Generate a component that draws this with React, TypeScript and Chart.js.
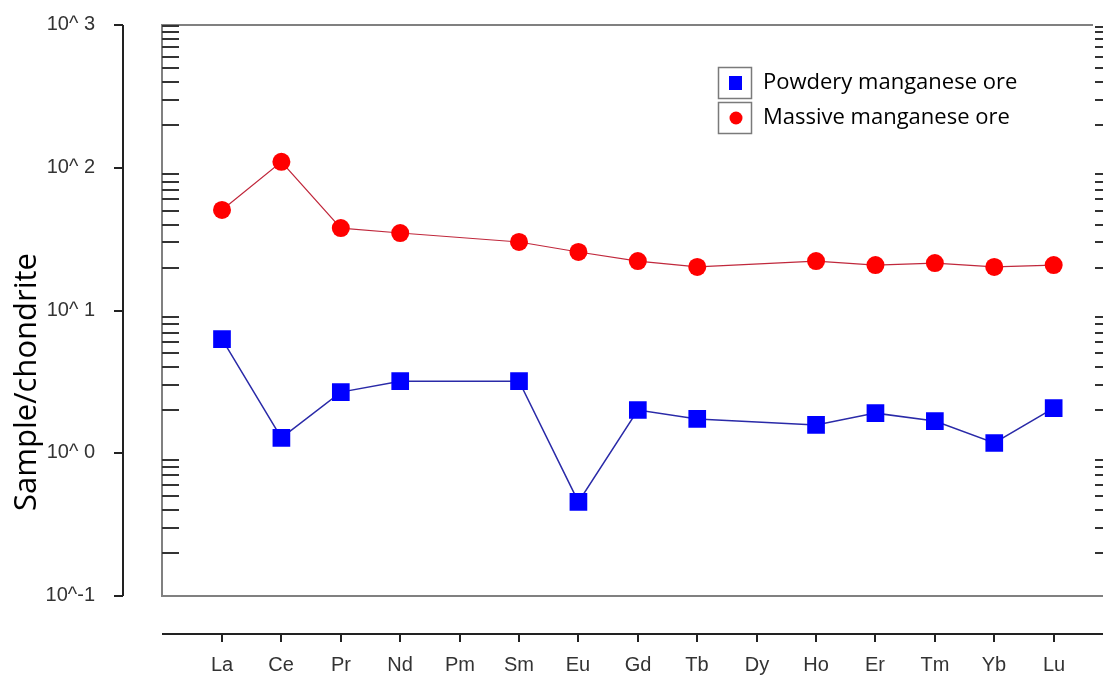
import React, { useEffect, useRef } from "react";
import { Chart, registerables } from "chart.js";

Chart.register(...registerables);

const categories = ["La", "Ce", "Pr", "Nd", "Pm", "Sm", "Eu", "Gd", "Tb", "Dy", "Ho", "Er", "Tm", "Yb", "Lu"];
const powdery: (number | null)[] = [6.3, 1.28, 2.68, 3.2, null, 3.2, 0.456, 2.01, 1.74, null, 1.58, 1.91, 1.68, 1.18, 2.07];
const massive: (number | null)[] = [50.6, 110, 37.8, 34.9, null, 30.2, 25.7, 22.2, 20.2, null, 22.2, 20.8, 21.5, 20.2, 20.8];
const yTickValues = [0.1, 1, 10, 100, 1000];
const yTickLabels = ["10^-1", "10^ 0", "10^ 1", "10^ 2", "10^ 3"];
const seriesNames = ["Powdery manganese ore", "Massive manganese ore"];
const yTitle = "Sample/chondrite";

const W = 1103;
const H = 680;

const framePlugin = {
  id: "framePlugin",
  beforeDatasetsDraw(chart: any) {
    const { ctx, chartArea, scales } = chart;
    const y = scales.y;
    const x = scales.x;
    const L = chartArea.left;
    const T = chartArea.top;
    const B = chartArea.bottom;
    ctx.save();
    // frame
    ctx.strokeStyle = "#808080";
    ctx.lineWidth = 2;
    ctx.beginPath();
    ctx.moveTo(1093, T);
    ctx.lineTo(L, T);
    ctx.lineTo(L, B);
    ctx.lineTo(W, B);
    ctx.stroke();
    // minor ticks
    ctx.strokeStyle = "#333";
    ctx.lineWidth = 2;
    for (let e = -1; e < 3; e++) {
      for (let m = 2; m <= 9; m++) {
        const v = m * Math.pow(10, e);
        const py = Math.round(y.getPixelForValue(v));
        ctx.beginPath();
        ctx.moveTo(L, py);
        ctx.lineTo(L + 17, py);
        ctx.moveTo(1095, py);
        ctx.lineTo(W, py);
        ctx.stroke();
      }
    }
    ctx.beginPath();
    ctx.moveTo(L, T + 1);
    ctx.lineTo(L + 17, T + 1);
    ctx.moveTo(1095, T + 2);
    ctx.lineTo(W, T + 2);
    ctx.stroke();

    // separate y axis
    ctx.strokeStyle = "#222";
    ctx.lineWidth = 2;
    ctx.beginPath();
    ctx.moveTo(123, y.getPixelForValue(1000));
    ctx.lineTo(123, y.getPixelForValue(0.1));
    ctx.stroke();
    ctx.fillStyle = "#333";
    ctx.font = "20px 'Liberation Sans', Arial, sans-serif";
    ctx.textAlign = "right";
    ctx.textBaseline = "middle";
    yTickValues.forEach((v, i) => {
      const py = Math.round(y.getPixelForValue(v));
      ctx.beginPath();
      ctx.moveTo(114, py);
      ctx.lineTo(123, py);
      ctx.stroke();
      ctx.fillText(yTickLabels[i], 95, py - 1);
    });

    // separate x axis
    const xa = 634;
    ctx.beginPath();
    ctx.moveTo(L, xa);
    ctx.lineTo(W, xa);
    ctx.stroke();
    ctx.textAlign = "center";
    ctx.textBaseline = "middle";
    ctx.font = "20px 'Liberation Sans', Arial, sans-serif";
    categories.forEach((c, i) => {
      const px = Math.round(x.getPixelForValue(i));
      ctx.beginPath();
      ctx.moveTo(px, xa);
      ctx.lineTo(px, xa + 8);
      ctx.stroke();
      ctx.fillText(c, px, 665);
    });

    // y title
    ctx.save();
    ctx.translate(27, 382);
    ctx.rotate(-Math.PI / 2);
    ctx.fillStyle = "#000";
    ctx.font = "31px 'Open Sans', 'Noto Sans', sans-serif";
    ctx.textAlign = "center";
    ctx.textBaseline = "middle";
    ctx.fillText(yTitle, 0, 0);
    ctx.restore();
    ctx.restore();
  },
  afterDraw(chart: any) {
    const { ctx } = chart;
    ctx.save();
    const boxes = [
      { y: 67, color: "#0000ff", shape: "rect" },
      { y: 102, color: "#ff0000", shape: "circle" },
    ];
    boxes.forEach((b, i) => {
      ctx.fillStyle = "#fff";
      ctx.fillRect(718, b.y, 34, 32);
      ctx.strokeStyle = "#7a7a7a";
      ctx.lineWidth = 1.5;
      ctx.strokeRect(718.5, b.y + 0.5, 33, 31);
      const cx = 736;
      const cy = b.y + 16;
      ctx.fillStyle = b.color;
      if (b.shape === "rect") {
        ctx.fillRect(cx - 7, cy - 7, 13, 14);
      } else {
        ctx.beginPath();
        ctx.arc(cx, cy, 6.5, 0, Math.PI * 2);
        ctx.fill();
      }
      ctx.fillStyle = "#000";
      ctx.font = "22px 'Open Sans', 'Noto Sans', sans-serif";
      ctx.textAlign = "left";
      ctx.textBaseline = "middle";
      ctx.fillText(seriesNames[i], 763, cy);
    });
    ctx.restore();
  },
};

export default function App() {
  const ref = useRef<HTMLCanvasElement>(null);
  useEffect(() => {
    document.body.style.margin = "0";
    const canvas = ref.current!;
    const chart = new Chart(canvas, {
      type: "line",
      data: {
        datasets: [
          {
            label: seriesNames[0],
            data: categories.map((c, i) => ({ x: i, y: powdery[i] })) as any,
            borderColor: "#2a2aa8",
            borderWidth: 1.5,
            pointStyle: "rect",
            pointRadius: 12.5,
            pointBackgroundColor: "#0000ff",
            pointBorderColor: "#0000ff",
            pointBorderWidth: 0,
            spanGaps: true,
          },
          {
            label: seriesNames[1],
            data: categories.map((c, i) => ({ x: i, y: massive[i] })) as any,
            borderColor: "#c0283c",
            borderWidth: 1.2,
            pointStyle: "circle",
            pointRadius: 9,
            pointBackgroundColor: "#ff0000",
            pointBorderColor: "#ff0000",
            pointBorderWidth: 0,
            spanGaps: true,
          },
        ],
      },
      options: {
        responsive: false,
        animation: false,
        layout: { padding: { left: 162, top: 25, right: W - 1093, bottom: H - 596 } },
        plugins: { legend: { display: false }, tooltip: { enabled: false } },
        scales: {
          x: { type: "linear", min: -1.01, max: 14.62, display: false },
          y: { type: "logarithmic", min: 0.1, max: 1000, display: false },
        },
      },
      plugins: [framePlugin],
    });
    return () => chart.destroy();
  }, []);
  return (
    <div style={{ position: "fixed", left: 0, top: 0, width: W, height: H, background: "#fff" }}>
      <canvas ref={ref} width={W} height={H} style={{ width: W, height: H, display: "block" }} />
    </div>
  );
}
